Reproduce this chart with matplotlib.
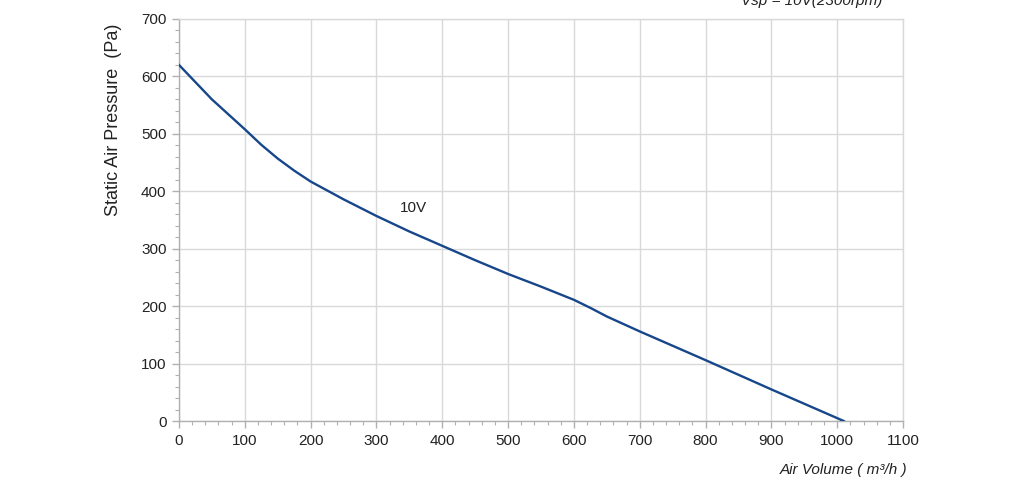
import numpy as np
import matplotlib
matplotlib.use("Agg")
import matplotlib.pyplot as plt
from matplotlib.ticker import MultipleLocator

plt.rcParams['font.family'] = ['Liberation Sans', 'DejaVu Sans']

# fan curve
air_volume = [0, 25, 50, 75, 100, 125, 150, 175, 200, 250, 300, 350, 400,
              450, 500, 550, 600, 625, 650, 700, 750, 800, 900, 1010]
static_pressure = [620, 590, 560, 534, 508, 481, 457, 436, 417, 386, 357, 330, 305,
                   280, 256, 234, 211, 197, 182, 156, 131, 106, 55, 0]

curve_label = "10V"
title = "Vsp = 10V(2300rpm)"

line_color = "#17478a"
grid_color = "#d9d9d9"
text_color = "#222222"

fig = plt.figure(figsize=(10.24, 4.86), dpi=100)
ax = fig.add_axes([179 / 1024, 65 / 486, 724 / 1024, 402 / 486])

ax.plot(air_volume, static_pressure, color=line_color, lw=1.7, zorder=3,
        solid_joinstyle='round')
ax.text(336, 371, curve_label, ha='left', va='center', fontsize=11, color=text_color)

ax.set_xlim(0, 1100)
ax.set_ylim(0, 700)
ax.xaxis.set_major_locator(MultipleLocator(100))
ax.xaxis.set_minor_locator(MultipleLocator(20))
ax.yaxis.set_major_locator(MultipleLocator(100))
ax.yaxis.set_minor_locator(MultipleLocator(20))

ax.grid(which='major', color=grid_color, lw=1.0)
for s in ax.spines.values():
    s.set_color(grid_color)
    s.set_linewidth(1.0)
ax.spines['left'].set_color('#b0b0b0')
ax.spines['bottom'].set_color('#b0b0b0')

ax.tick_params(which='both', direction='out', color='#b0b0b0', labelcolor=text_color,
               labelsize=11)
ax.tick_params(which='major', length=5, width=1.0, pad=4)
ax.tick_params(which='minor', length=3, width=0.8)

fig.text(113 / 1024, 1 - 120 / 486, "Static Air Pressure  (Pa)", rotation=90,
         ha='center', va='center', fontsize=13, color=text_color)
fig.text(907 / 1024, 1 - 470 / 486, "Air Volume ( m³/h )", ha='right', va='center',
         fontsize=11, style='italic', color=text_color)
fig.text(812 / 1024, 1 - 1 / 486, title, ha='center', va='center',
         fontsize=11, style='italic', color=text_color)

fig.savefig("out.png", dpi=100)
